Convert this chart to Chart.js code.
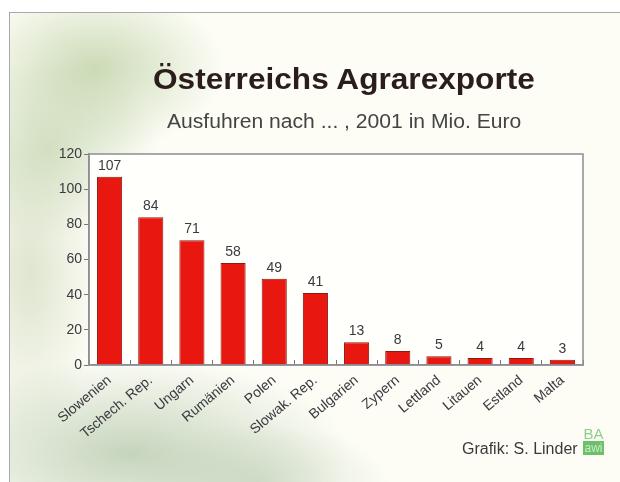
<!DOCTYPE html>
<html>
<head>
<meta charset="utf-8">
<script src="https://cdn.jsdelivr.net/npm/chart.js@4"></script>
<style>
  html, body { margin: 0; padding: 0; background: #fff; }
  #page { position: relative; width: 620px; height: 482px; overflow: hidden; background: #fff; }
  #frame {
    position: absolute; left: 9px; top: 12px; width: 640px; height: 500px;
    border-left: 1.5px solid #a9a9a9; border-top: 1.5px solid #a9a9a9;
    background:
      radial-gradient(ellipse 130px 85px at 85px 55px, rgba(170,195,140,0.6), rgba(170,195,140,0) 100%),
      radial-gradient(ellipse 110px 90px at 40px 135px, rgba(175,198,150,0.5), rgba(175,198,150,0) 100%),
      radial-gradient(ellipse 70px 170px at 20px 260px, rgba(185,200,160,0.45), rgba(185,200,160,0) 100%),
      radial-gradient(ellipse 220px 95px at 120px 440px, rgba(160,185,150,0.6), rgba(160,185,150,0) 100%),
      radial-gradient(ellipse 130px 60px at 250px 470px, rgba(175,195,165,0.45), rgba(175,195,165,0) 100%),
      #fdfdf6;
  }
  canvas { position: absolute; left: 0; top: 0; }
  .txt { position: absolute; font-family: "Liberation Sans", Arial, sans-serif; white-space: nowrap; transform-origin: 0 0; }
  #title { left: 153px; top: 63px; font-size: 29px; font-weight: bold; color: #2b1d1c; transform: scaleX(1.09); }
  #subtitle { left: 167px; top: 110px; font-size: 20px; color: #444; transform: scaleX(1.055); }
  #credit { left: 462px; top: 440px; font-size: 16px; color: #3a3a3a; }
  #logo { position: absolute; left: 583px; top: 426px; width: 21px; font-family: "Liberation Sans", Arial, sans-serif; text-align: center; }
  #logo .ba { font-size: 15px; color: #8fcf8a; line-height: 15px; }
  #logo .awi { font-size: 12px; color: #c9ecc4; background: #6cc06a; line-height: 14px; }
</style>
</head>
<body>
<div id="page">
  <div id="frame"></div>
  <canvas id="chart" width="620" height="482"></canvas>
  <div class="txt" id="title">Österreichs Agrarexporte</div>
  <div class="txt" id="subtitle">Ausfuhren nach ... , 2001 in Mio. Euro</div>
  <div class="txt" id="credit">Grafik: S. Linder</div>
  <div id="logo"><div class="ba">BA</div><div class="awi">awi</div></div>
</div>
<script>
const countries = ['Slowenien', 'Tschech. Rep.', 'Ungarn', 'Rumänien', 'Polen', 'Slowak. Rep.',
                   'Bulgarien', 'Zypern', 'Lettland', 'Litauen', 'Estland', 'Malta'];
const exportsMio = [107, 84, 71, 58, 49, 41, 13, 8, 5, 4, 4, 3];
const yTicks = [0, 20, 40, 60, 80, 100, 120];

// plot box background + top/right frame line
const plotBox = {
    id: 'plotBox',
    beforeDraw(chart) {
        const { ctx, chartArea: a } = chart;
        ctx.save();
        ctx.fillStyle = '#fffffb';
        ctx.fillRect(a.left, a.top, a.right - a.left, a.bottom - a.top);
        ctx.restore();
    },
    afterDraw(chart) {
        const { ctx, chartArea: a } = chart;
        ctx.save();
        ctx.strokeStyle = '#8d8d95';
        ctx.lineWidth = 1.5;
        ctx.strokeRect(a.left, a.top, a.right - a.left, a.bottom - a.top);
        ctx.restore();
    }
};

// value above every bar
const valueLabels = {
    id: 'valueLabels',
    afterDatasetsDraw(chart) {
        const { ctx } = chart;
        const meta = chart.getDatasetMeta(0);
        ctx.save();
        ctx.font = '14px "Liberation Sans", Arial, sans-serif';
        ctx.fillStyle = '#3a3a40';
        ctx.textAlign = 'center';
        ctx.textBaseline = 'bottom';
        meta.data.forEach((bar, i) => {
            ctx.fillText(exportsMio[i], bar.x, bar.y - 4);
        });
        ctx.restore();
    }
};

new Chart(document.getElementById('chart'), {
    type: 'bar',
    data: {
        labels: countries,
        datasets: [{
            data: exportsMio,
            backgroundColor: '#e8170f',
            borderColor: '#8e1a12',
            borderWidth: 1,
            categoryPercentage: 1,
            barPercentage: 0.61
        }]
    },
    options: {
        responsive: false,
        animation: false,
        layout: { padding: { left: 40, right: 37, top: 154, bottom: 37 } },
        plugins: { legend: { display: false }, tooltip: { enabled: false } },
        scales: {
            x: {
                afterFit(scale) { scale.height = 80; },
                grid: { display: true, drawOnChartArea: false, offset: true, tickLength: -5, color: '#77777d', lineWidth: 1 },
                border: { display: true, color: '#8d8d95', width: 1.5 },
                ticks: {
                    autoSkip: false, minRotation: 40, maxRotation: 40, padding: 12,
                    color: '#3a3a40', font: { family: '"Liberation Sans", Arial, sans-serif', size: 14 }
                }
            },
            y: {
                min: 0, max: 120,
                afterFit(scale) { scale.width = 49; },
                afterBuildTicks(scale) { scale.ticks = yTicks.map(v => ({ value: v })); },
                grid: { display: true, drawOnChartArea: false, tickLength: 5, color: '#77777d' },
                border: { display: true, color: '#8d8d95', width: 1.5 },
                ticks: {
                    padding: 2, color: '#3a3a40',
                    font: { family: '"Liberation Sans", Arial, sans-serif', size: 14 }
                }
            }
        }
    },
    plugins: [plotBox, valueLabels]
});
</script>
</body>
</html>
